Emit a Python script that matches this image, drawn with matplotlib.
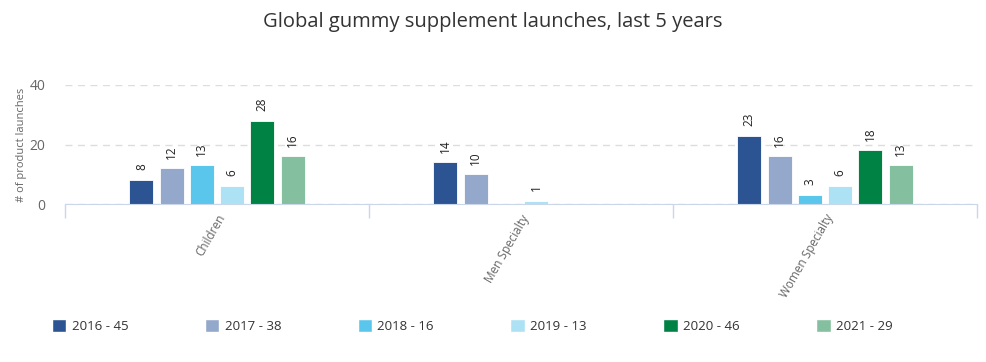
import numpy as np
import matplotlib
matplotlib.use("Agg")
import matplotlib.pyplot as plt
from matplotlib.patches import Patch

plt.rcParams['font.family'] = ['Open Sans', 'DejaVu Sans']

categories = ['Children', 'Men Specialty', 'Women Specialty']
years = ['2016', '2017', '2018', '2019', '2020', '2021']
totals = [45, 38, 16, 13, 46, 29]
values = {
    '2016': [8, 14, 23],
    '2017': [12, 10, 16],
    '2018': [13, 0, 3],
    '2019': [6, 1, 6],
    '2020': [28, 0, 18],
    '2021': [16, 0, 13],
}
colors = ['#2d5492', '#94a8cb', '#5bc6ec', '#ace2f4', '#008245', '#84c0a0']

fig = plt.figure(figsize=(9.86, 3.62), dpi=100)
ax = fig.add_axes([65 / 986, (362 - 204) / 362, (977 - 65) / 986, (204 - 85) / 362])

x = np.arange(len(categories))
step = 0.0995
width = 0.079
handles = []
for i, yr in enumerate(years):
    pos = x + (i - 2.5) * step
    vals = values[yr]
    for p, v in zip(pos, vals):
        if v == 0:
            continue
        ax.bar(p, v, width=width, color=colors[i], edgecolor='white', linewidth=0.6, zorder=3)
        ax.annotate(str(v), (p, v), xytext=(0, 7), textcoords='offset points',
                    rotation=90, ha='center', va='bottom', fontsize=8.5, color='#222222')
    handles.append(Patch(facecolor=colors[i], edgecolor='white', label=f'{yr} - {totals[i]}'))

ax.set_xlim(-0.5, 2.5)
ax.set_ylim(0, 40)
ax.set_yticks([0, 20, 40])
ax.tick_params(axis='y', length=0, labelsize=10, colors='#666666', pad=14)
ax.yaxis.grid(True, linestyle=(0, (5, 4)), color='#dddddd', linewidth=1)
ax.set_axisbelow(True)
for s in ['top', 'right', 'left']:
    ax.spines[s].set_visible(False)
ax.spines['bottom'].set_color('#ccd6eb')
ax.spines['bottom'].set_zorder(4)

ax.set_xticks([-0.5, 0.5, 1.5, 2.5])
ax.set_xticklabels([])
ax.tick_params(axis='x', which='major', length=10, color='#ccd6eb', width=1)
ax.set_xticks(x, minor=True)
ax.set_xticklabels(categories, minor=True, rotation=60, ha='right', rotation_mode='anchor',
                   fontsize=8.5, color='#666666')
ax.tick_params(axis='x', which='minor', length=0, pad=6)

ax.set_ylabel('# of product launches', fontsize=8, color='#666666', labelpad=2)

fig.text(0.5, 1 - 22 / 362, 'Global gummy supplement launches, last 5 years',
         ha='center', va='center', fontsize=14.5, color='#333333')

fig.legend(handles=handles, ncol=6, loc='center left', bbox_to_anchor=(40 / 986, 1 - 326 / 362),
           frameon=False, fontsize=9.5, handlelength=1.1, handleheight=1.1, handletextpad=0.4,
           columnspacing=5.8, labelcolor='#333333')

fig.savefig('out.png', dpi=100)
